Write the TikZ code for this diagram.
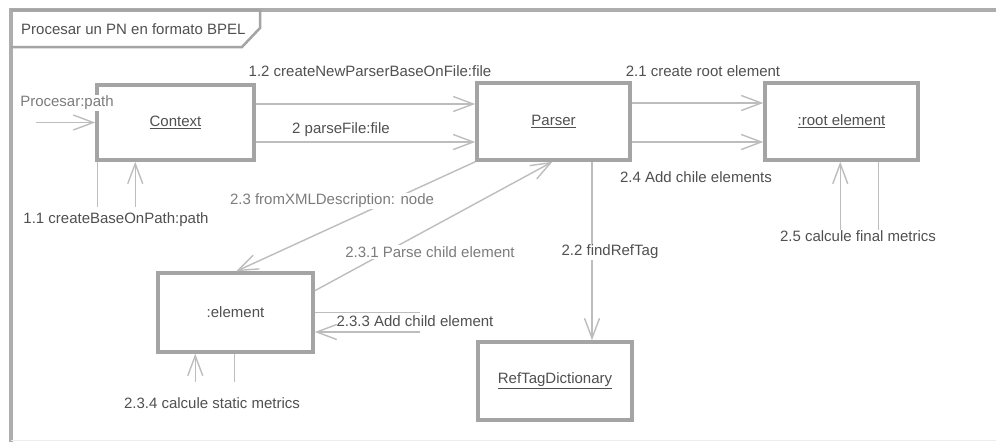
\documentclass[tikz,border=0pt]{standalone}
\usepackage{fontspec}
\setmainfont{Liberation Sans}
\usetikzlibrary{arrows.meta,calc}
\definecolor{boxgray}{HTML}{A4A4A4}
\definecolor{linegray}{HTML}{BDBDBD}
\definecolor{txtdark}{HTML}{505050}
\definecolor{txtlight}{HTML}{7C7C7C}
\tikzset{
  obj/.style={draw=boxgray, line width=3.5pt, fill=white, inner sep=0pt,
    font=\fontsize{15}{18}\selectfont, text=txtdark},
  msg/.style={draw=linegray, line width=1.4pt},
  call/.style={msg, -{Straight Barb[length=20pt,width=15pt,line width=1.4pt]}},
  lbl/.style={font=\fontsize{15}{18}\selectfont, text=txtdark, inner sep=1pt},
  lblw/.style={lbl, fill=white},
  lbllight/.style={lblw, text=txtlight},
}
\begin{document}
\begin{tikzpicture}[x=1pt,y=-1pt]
\useasboundingbox (0,0) rectangle (996,442);
\fill[white] (0,0) rectangle (996,442);

% diagram frame and its name tag
\draw[draw=boxgray!90, line width=3.5pt] (1010,10) -- (11,10) -- (11,442);
\draw[draw=black!7, line width=1pt] (11,440.5) -- (1010,440.5);
\draw[draw=boxgray, line width=2.5pt] (11,10) -- (260,10) -- (260,28) -- (242,47) -- (11,47);
\node[lbl, anchor=west] (title) at (20,29) {Procesar un PN en formato BPEL};

% objects
\node[obj, minimum width=157pt, minimum height=75pt] (ctx)  at (175.5,122.5) {\underline{Context}};
\node[obj, minimum width=153pt, minimum height=77pt] (par)  at (553.5,121.5) {\underline{Parser}};
\node[obj, minimum width=153pt, minimum height=77pt] (root) at (841.5,121.5) {\underline{:root element}};
\node[obj, minimum width=155pt, minimum height=79pt] (el)   at (235.5,312.5) {:element};
\node[obj, minimum width=154pt, minimum height=78pt] (dict) at (555,381)     {\underline{RefTagDictionary}};

% free ends of the messages
\coordinate (start) at ([xshift=-59pt]ctx.west);
\coordinate (c11a) at ([xshift=2pt,yshift=-45pt]ctx.south west);
\coordinate (c11b) at ([xshift=40pt,yshift=-45pt]ctx.south west);
\coordinate (c25a) at ([xshift=77pt,yshift=-68pt]root.south west);
\coordinate (c25b) at ([xshift=115pt,yshift=-68pt]root.south west);
\coordinate (c234a) at ([xshift=39pt,yshift=-28pt]el.south west);
\coordinate (c234b) at ([xshift=78pt,yshift=-28pt]el.south west);
\coordinate (c233a) at ([xshift=105pt]el.east);
\coordinate (c233b) at ([xshift=105pt,yshift=-19.5pt]el.east);

% messages
\draw[call] (start) -- (ctx.west);
\draw[call] ([yshift=18.5pt]ctx.east) -- ([yshift=18.5pt]ctx.east -| par.west);
\draw[call] ([yshift=-19.5pt]ctx.east) -- ([yshift=-19.5pt]ctx.east -| par.west);
\draw[call] ([yshift=18.5pt]par.east) -- ([yshift=18.5pt]par.east -| root.west);
\draw[call] ([yshift=-20.5pt]par.east) -- ([yshift=-20.5pt]par.east -| root.west);
\draw[msg] (c11a |- ctx.south) -- (c11a);
\draw[call] (c11b) -- (c11b |- ctx.south);
\draw[call] (c25a) -- (c25a |- root.south);
\draw[msg] (c25b |- root.south) -- (c25b);
\draw[call] (c234a) -- (c234a |- el.south);
\draw[msg] (c234b |- el.south) -- (c234b);
\draw[call] ([xshift=38.5pt]par.south) -- ([xshift=38.5pt]par.south |- dict.north);
\draw[call] (par.south west) -- ([xshift=80pt]el.north west);
\draw[call] ([yshift=-19.5pt]el.north east) -- ([xshift=-1pt]par.south);
\draw[msg] (el.east) -- (c233a);
\draw[call] (c233b) -- (c233b -| el.east);

% message labels
\node[lbllight] (l0)   at (67,103)  {Procesar:path};
\node[lbl]      (l12)  at (370,71)  {1.2 createNewParserBaseOnFile:file};
\node[lbl]      (l2)   at (341,130) {2 parseFile:file};
\node[lbl]      (l21)  at (703,71)  {2.1 create root element};
\node[lbl]      (l24)  at (696,177) {2.4 Add chile elements};
\node[lbl]      (l11)  at (116,220) {1.1 createBaseOnPath:path};
\node[lbl]      (l25)  at (858,236) {2.5 calcule final metrics};
\node[lbllight] (l23)  at (332,201) {2.3 fromXMLDescription: node};
\node[lbllight] (l231) at (430,252) {2.3.1 Parse child element};
\node[lblw]     (l22)  at (610,252) {2.2 findRefTag};
\node[lbl]      (l233) at (415,321) {2.3.3 Add child element};
\node[lbl]      (l234) at (212,403) {2.3.4 calcule static metrics};
\end{tikzpicture}
\end{document}
